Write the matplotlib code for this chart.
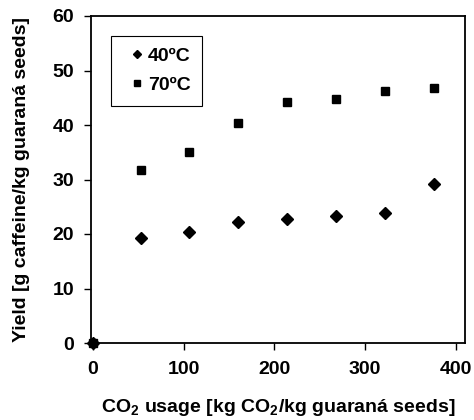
import matplotlib
matplotlib.use("Agg")
import matplotlib.pyplot as plt

# CO2 usage [kg CO2/kg guarana seeds]
co2_usage = [0, 53, 106, 160, 214, 268, 322, 376]
# yield [g caffeine/kg guarana seeds]
yield_40 = [0, 19.2, 20.4, 22.2, 22.7, 23.3, 23.8, 29.1]
yield_70 = [0, 31.7, 35.0, 40.3, 44.2, 44.8, 46.2, 46.8]
series_labels = ["40ºC", "70ºC"]
x_ticks = [0, 100, 200, 300, 400]
y_ticks = [0, 10, 20, 30, 40, 50, 60]

plt.rcParams['font.family'] = ['Liberation Sans', 'DejaVu Sans']
plt.rcParams['font.weight'] = 'bold'
plt.rcParams['mathtext.fontset'] = 'custom'
plt.rcParams['mathtext.rm'] = 'Liberation Sans:bold'
plt.rcParams['mathtext.bf'] = 'Liberation Sans:bold'

fig = plt.figure(figsize=(4.74, 4.2), dpi=100)
ax = fig.add_axes([91 / 474, 1 - 343 / 420, 374 / 474, 327 / 420])

ax.plot(co2_usage, yield_40, linestyle='none', marker='D', color='black',
        markersize=6, label=series_labels[0], clip_on=False, zorder=3)
ax.plot(co2_usage, yield_70, linestyle='none', marker='s', color='black',
        markersize=5.8, label=series_labels[1], clip_on=False, zorder=3)

ax.set_xlim(-2, 410)
ax.set_ylim(0, 60)
ax.set_xticks(x_ticks)
ax.set_yticks(y_ticks)
ax.tick_params(axis='x', direction='out', length=5, width=1, pad=8, labelsize=14)
ax.tick_params(axis='y', direction='out', length=5, width=1, pad=7, labelsize=14)
for lab in ax.get_xticklabels() + ax.get_yticklabels():
    lab.set_fontweight('bold')
for sp in ax.spines.values():
    sp.set_linewidth(1.3)

ax.set_xlabel("CO$_{2}$ usage [kg CO$_{2}$/kg guaraná seeds]", fontsize=14,
              fontweight='bold', labelpad=14)
ax.set_ylabel("Yield [g caffeine/kg guaraná seeds]", fontsize=14,
              fontweight='bold', labelpad=16)

leg = ax.legend(loc='upper left', bbox_to_anchor=(0.053, 0.94), fancybox=False,
                edgecolor='black', framealpha=1, fontsize=14, markerscale=0.75,
                handlelength=1.5, handletextpad=-0.2, borderpad=0.6,
                labelspacing=0.6, borderaxespad=0)
leg.get_frame().set_linewidth(0.8)
for t in leg.get_texts():
    t.set_fontweight('bold')

fig.savefig("out.png", dpi=100)
